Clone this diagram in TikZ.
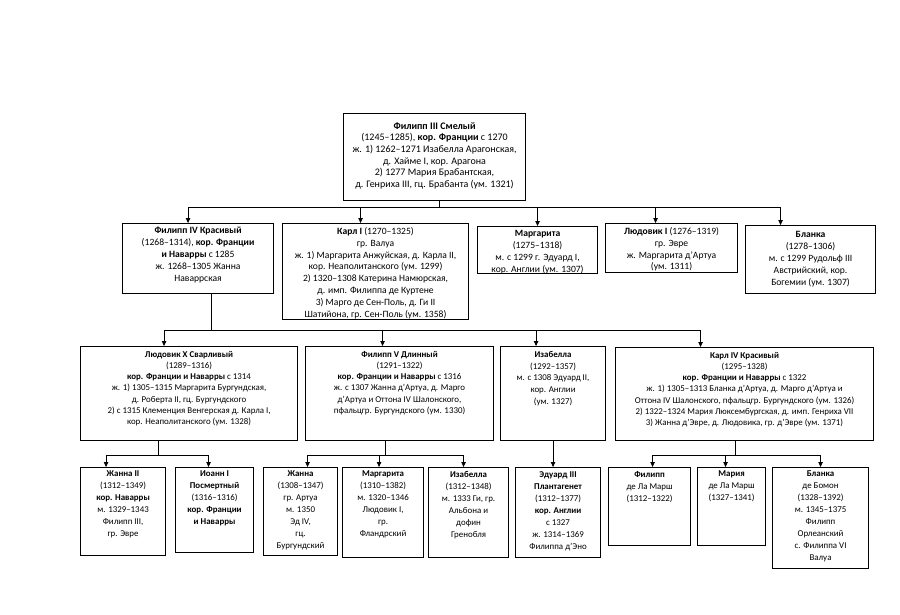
\documentclass[tikz,border=0pt]{standalone}
\usepackage{fontspec}
\setmainfont{Carlito}
\usetikzlibrary{arrows.meta}

\tikzset{
  pbox/.style={draw, line width=1.1pt, anchor=north west, inner sep=0pt},
  ptext/.style={anchor=north, align=center, inner sep=0pt,
    font=\fontsize{8.9}{11.2}\selectfont},
  big/.style={font=\fontsize{10}{11.7}\selectfont},
  mid/.style={font=\fontsize{9.6}{11.9}\selectfont},
  small/.style={font=\fontsize{8.9}{12}\selectfont},
  link/.style={line width=0.8pt},
  arr/.style={link, -{Triangle[length=5pt,width=4.5pt]}},
}

% #1 text options, #2 name, #3 top left corner, #4 width, #5 height, #6 text
\newcommand{\person}[6][]{%
  \node[pbox, minimum width=#4pt, minimum height=#5pt] (#2) at (#3) {};
  \node[ptext, #1] (#2-t) at ([yshift=-4pt]#2.north) {#6};
}

\begin{document}
\begin{tikzpicture}[x=1pt, y=-1pt]
\useasboundingbox (0,0) rectangle (900,615);

% level 1
\person[big, yshift=-5pt]{fil3}{343,113}{182}{87}{\textbf{Филипп III Смелый}\\
  (1245–1285), \textbf{кор. Франции} с 1270\\
  ж. 1) 1262–1271 Изабелла Арагонская,\\
  д. Хайме I, кор. Арагона\\
  2) 1277 Мария Брабантская,\\
  д. Генриха III, гц. Брабанта (ум. 1321)}

% level 2
\person[mid]{fil4}{122,223}{151}{70}{\textbf{Филипп IV Красивый}\\
  (1268–1314), \textbf{кор. Франции}\\
  \textbf{и Наварры} с 1285\\
  ж. 1268–1305 Жанна\\
  Наваррская}
\person[mid]{karl1}{282,223}{186}{96}{\textbf{Карл I} (1270–1325)\\
  гр. Валуа\\
  ж. 1) Маргарита Анжуйская, д. Карла II,\\
  кор. Неаполитанского (ум. 1299)\\
  2) 1320–1308 Катерина Намюрская,\\
  д. имп. Филиппа де Куртене\\
  3) Марго де Сен-Поль, д. Ги II\\
  Шатийона, гр. Сен-Поль (ум. 1358)}
\person[mid]{marg1}{477,226}{120}{47}{\textbf{Маргарита}\\
  (1275–1318)\\
  м. с 1299 г. Эдуард I,\\
  кор. Англии (ум. 1307)}
\person[mid]{lud1}{605,223}{132}{49}{\textbf{Людовик I} (1276–1319)\\
  гр. Эвре\\
  ж. Маргарита д’Артуа\\
  (ум. 1311)}
\person[mid, yshift=-2pt]{blan1}{745,225}{130}{68}{\textbf{Бланка}\\
  (1278–1306)\\
  м. с 1299 Рудольф III\\
  Австрийский, кор.\\
  Богемии (ум. 1307)}

% level 3
\person[yshift=-1pt]{lud10}{80,346}{217}{94}{\textbf{Людовик X Сварливый}\\
  (1289–1316)\\
  \textbf{кор. Франции и Наварры} с 1314\\
  ж. 1) 1305–1315 Маргарита Бургундская,\\
  д. Роберта II, гц. Бургундского\\
  2) с 1315 Клеменция Венгерская д. Карла I,\\
  кор. Неаполитанского (ум. 1328)}
\person[yshift=-1pt]{fil5}{305,346}{188}{94}{\textbf{Филипп V Длинный}\\
  (1291–1322)\\
  \textbf{кор. Франции и Наварры} с 1316\\
  ж. с 1307 Жанна д’Артуа, д. Марго\\
  д’Артуа и Оттона IV Шалонского,\\
  пфальцгр. Бургундского (ум. 1330)}
\person[yshift=-1pt, font=\fontsize{8.9}{11.8}\selectfont]{isab1}{500,346}{105}{94}{\textbf{Изабелла}\\
  (1292–1357)\\
  м. с 1308 Эдуард II,\\
  кор. Англии\\
  (ум. 1327)}
\person[yshift=-1pt]{karl4}{615,347}{258}{93}{\textbf{Карл IV Красивый}\\
  (1295–1328)\\
  \textbf{кор. Франции и Наварры} с 1322\\
  ж. 1) 1305–1313 Бланка д’Артуа, д. Марго д’Артуа и\\
  Оттона IV Шалонского, пфальцгр. Бургундского (ум. 1326)\\
  2) 1322–1324 Мария Люксембургская, д. имп. Генриха VII\\
  3) Жанна д’Эвре, д. Людовика, гр. д’Эвре (ум. 1371)}

% level 4
\person[small]{zhan2}{80,467}{85}{88}{\textbf{Жанна II}\\
  (1312–1349)\\
  \textbf{кор. Наварры}\\
  м. 1329–1343\\
  Филипп III,\\
  гр. Эвре}
\person[small]{ioan1}{175,467}{78}{85}{\textbf{Иоанн I}\\
  \textbf{Посмертный}\\
  (1316–1316)\\
  \textbf{кор. Франции}\\
  \textbf{и Наварры}}
\person[small]{zhan}{263,467}{74}{88}{\textbf{Жанна}\\
  (1308–1347)\\
  гр. Артуа\\
  м. 1350\\
  Эд IV,\\
  гц.\\
  Бургундский}
\person[small]{marg2}{342,467}{81}{90}{\textbf{Маргарита}\\
  (1310–1382)\\
  м. 1320–1346\\
  Людовик I,\\
  гр.\\
  Фландрский}
\person[small]{isab2}{428,467}{80}{90}{\textbf{Изабелла}\\
  (1312–1348)\\
  м. 1333 Ги, гр.\\
  Альбона и\\
  дофин\\
  Гренобля}
\person[small]{edw3}{515,467}{85}{90}{\textbf{Эдуард III}\\
  \textbf{Плантагенет}\\
  (1312–1377)\\
  \textbf{кор. Англии}\\
  с 1327\\
  ж. 1314–1369\\
  Филиппа д’Эно}
\person[small]{film}{608,467}{82}{78}{\textbf{Филипп}\\
  де Ла Марш\\
  (1312–1322)}
\person[small]{marm}{697,467}{68}{78}{\textbf{Мария}\\
  де Ла Марш\\
  (1327–1341)}
\person[small]{blan2}{772,467}{96}{101}{\textbf{Бланка}\\
  де Бомон\\
  (1328–1392)\\
  м. 1345–1375\\
  Филипп\\
  Орлеанский\\
  с. Филиппа VI\\
  Валуа}

% connectors
\coordinate (bus1) at (0,207);
\coordinate (bus2) at (0,330);
\coordinate (bus3) at (0,455);

\draw[link] ([xshift=5pt]fil3.south) -- ([xshift=5pt]fil3.south |- bus1);
\draw[link] ([xshift=-10pt]fil4.north |- bus1) -- ([xshift=-30pt]blan1.north |- bus1);
\foreach \c/\dx in {fil4/-10, karl1/-15, marg1/0, lud1/-16, blan1/-30}
  \draw[arr] ([xshift=\dx pt]\c.north |- bus1) -- ([xshift=\dx pt]\c.north);

\draw[link] ([xshift=13pt]fil4.south) -- ([xshift=13pt]fil4.south |- bus2);
\draw[link] ([xshift=-25pt]lud10.north |- bus2) -- ([xshift=-44pt]karl4.north |- bus2);
\foreach \c/\dx in {lud10/-25, fil5/-17, isab1/-17, karl4/-44}
  \draw[arr] ([xshift=\dx pt]\c.north |- bus2) -- ([xshift=\dx pt]\c.north);

\draw[link] ([xshift=-31pt]lud10.south) -- ([xshift=-31pt]lud10.south |- bus3);
\draw[link] ([xshift=-17pt]zhan2.north |- bus3) -- ([xshift=-6pt]ioan1.north |- bus3);
\foreach \c/\dx in {zhan2/-17, ioan1/-6}
  \draw[arr] ([xshift=\dx pt]\c.north |- bus3) -- ([xshift=\dx pt]\c.north);

\draw[link] ([xshift=-14pt]fil5.south) -- ([xshift=-14pt]fil5.south |- bus3);
\draw[link] ([xshift=7pt]zhan.north |- bus3) -- ([xshift=-5pt]isab2.north |- bus3);
\foreach \c/\dx in {zhan/7, marg2/-4, isab2/-5}
  \draw[arr] ([xshift=\dx pt]\c.north |- bus3) -- ([xshift=\dx pt]\c.north);

\draw[arr] (isab1.south) -- (edw3.north -| isab1.south);

\draw[link] ([xshift=-9pt]karl4.south) -- ([xshift=-9pt]karl4.south |- bus3);
\draw[link] ([xshift=3pt]film.north |- bus3) -- (blan2.north |- bus3);
\foreach \c/\dx in {film/3, marm/-6, blan2/0}
  \draw[arr] ([xshift=\dx pt]\c.north |- bus3) -- ([xshift=\dx pt]\c.north);

\end{tikzpicture}
\end{document}
